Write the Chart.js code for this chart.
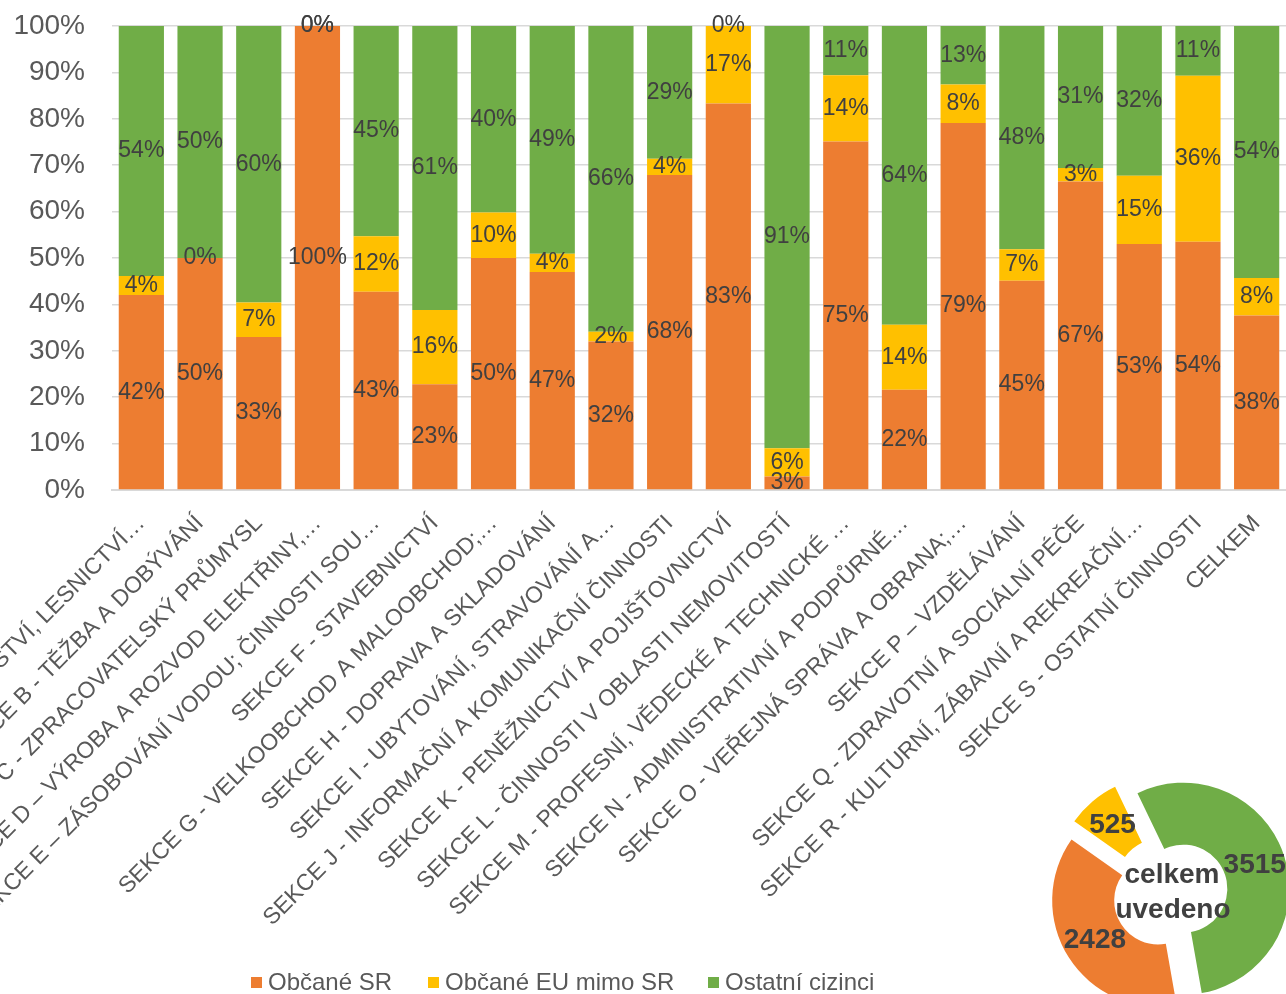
<!DOCTYPE html>
<html>
<head>
<meta charset="utf-8">
<script src="https://cdn.jsdelivr.net/npm/chart.js@4.4.1/dist/chart.umd.min.js"></script>
<style>
  html, body { margin: 0; padding: 0; background: #fff; overflow: hidden; }
  #wrap { position: relative; width: 1286px; height: 994px; overflow: hidden; }
  #barChart { position: absolute; left: 0; top: 0; }
  #pieChart { position: absolute; left: 1020px; top: 743px; }
  .lg-box { position: absolute; width: 11px; height: 11px; top: 977px; }
  .lg-text { position: absolute; top: 968px; font: 24px "Liberation Sans", Arial, sans-serif; line-height: 28px; color: #595959; white-space: nowrap; }
</style>
</head>
<body>
<div id="wrap">
  <canvas id="barChart" width="1286" height="994"></canvas>
  <canvas id="pieChart" width="300" height="300"></canvas>
  <div id="legend"></div>
</div>
<script>
// categories (x axis)
const categories = [
  "SEKCE A - ZEMĚDĚLSTVÍ, LESNICTVÍ…",
  "SEKCE B - TĚŽBA A DOBÝVÁNÍ",
  "SEKCE C - ZPRACOVATELSKÝ PRŮMYSL",
  "SEKCE D – VÝROBA A ROZVOD ELEKTŘINY,…",
  "SEKCE E – ZÁSOBOVÁNÍ VODOU; ČINNOSTI SOU…",
  "SEKCE F - STAVEBNICTVÍ",
  "SEKCE G - VELKOOBCHOD A MALOOBCHOD;…",
  "SEKCE H - DOPRAVA A SKLADOVÁNÍ",
  "SEKCE I - UBYTOVÁNÍ, STRAVOVÁNÍ A…",
  "SEKCE J - INFORMAČNÍ A KOMUNIKAČNÍ ČINNOSTI",
  "SEKCE K - PENĚŽNICTVÍ A POJIŠŤOVNICTVÍ",
  "SEKCE L - ČINNOSTI V OBLASTI NEMOVITOSTÍ",
  "SEKCE M - PROFESNÍ, VĚDECKÉ A TECHNICKÉ …",
  "SEKCE N - ADMINISTRATIVNÍ A PODPŮRNÉ…",
  "SEKCE O - VEŘEJNÁ SPRÁVA A OBRANA;…",
  "SEKCE P – VZDĚLÁVÁNÍ",
  "SEKCE Q - ZDRAVOTNÍ A SOCIÁLNÍ PÉČE",
  "SEKCE R - KULTURNÍ, ZÁBAVNÍ A REKREAČNÍ…",
  "SEKCE S - OSTATNÍ ČINNOSTI",
  "CELKEM"
];

// shares in % per category
const obcaneSR  = [42, 50, 33, 100, 42.7, 22.8, 50, 47, 32, 67.9, 83.3, 2.9, 75.1, 21.6, 79.1, 45.1, 66.5, 53, 53.5, 37.6];
const obcaneEU  = [4.1, 0, 7.4, 0, 12, 16, 9.8, 3.9, 2.1, 3.5, 16.7, 6.1, 14.3, 14, 8.3, 6.8, 2.9, 14.7, 35.8, 8.1];
const ostatni   = [53.9, 50, 59.6, 0, 45.3, 61.2, 40.2, 49.1, 65.9, 28.6, 0, 91, 10.6, 64.4, 12.6, 48.1, 30.6, 32.3, 10.7, 54.3];

const seriesNames = ["Občané SR", "Občané EU mimo SR", "Ostatní cizinci"];
const seriesColors = ["#ED7D31", "#FFC000", "#70AD47"];

// totals (doughnut)
const totalsCounts = [2428, 525, 3515];
const centerText = ["celkem", "uvedeno"];

const yTicks = [0, 10, 20, 30, 40, 50, 60, 70, 80, 90, 100];

Chart.defaults.font.family = '"Liberation Sans", Arial, sans-serif';

// percentage labels in the middle of each segment
const barLabels = {
  id: 'barLabels',
  afterDatasetsDraw(chart) {
    const ctx = chart.ctx;
    ctx.save();
    ctx.font = '23px "Liberation Sans", Arial, sans-serif';
    ctx.fillStyle = '#404040';
    ctx.textAlign = 'center';
    ctx.textBaseline = 'middle';
    chart.data.datasets.forEach((ds, i) => {
      chart.getDatasetMeta(i).data.forEach((bar, j) => {
        const y = (bar.y + bar.base) / 2;
        ctx.fillText(Math.round(ds.data[j]) + '%', bar.x, y);
      });
    });
    ctx.restore();
  }
};

new Chart(document.getElementById('barChart'), {
  type: 'bar',
  data: {
    labels: categories,
    datasets: [
      { label: seriesNames[0], data: obcaneSR, backgroundColor: seriesColors[0] },
      { label: seriesNames[1], data: obcaneEU, backgroundColor: seriesColors[1] },
      { label: seriesNames[2], data: ostatni, backgroundColor: seriesColors[2] }
    ]
  },
  options: {
    responsive: false,
    animation: false,
    barPercentage: 0.77,
    categoryPercentage: 1,
    layout: { padding: { top: 26, left: 0, right: 0, bottom: 0 } },
    plugins: { legend: { display: false }, tooltip: { enabled: false } },
    scales: {
      x: {
        stacked: true,
        grid: { display: false },
        border: { display: true, color: '#D9D9D9', width: 2 },
        ticks: {
          autoSkip: false, minRotation: 45, maxRotation: 45, padding: 12,
          color: '#595959', font: { size: 23 }
        },
        afterFit(scale) {
          scale.height = 504;
          scale.paddingLeft = 0;
          scale.paddingRight = 0;
        }
      },
      y: {
        stacked: true,
        min: 0,
        max: 100,
        afterBuildTicks(scale) { scale.ticks = yTicks.map(v => ({ value: v })); },
        ticks: {
          padding: 27, color: '#595959', font: { size: 28 },
          callback: v => v + '%'
        },
        grid: { color: '#D9D9D9', lineWidth: 1.5, drawTicks: false },
        border: { display: false },
        afterFit(scale) {
          scale.width = 112;
          scale.paddingTop = 0;
          scale.paddingBottom = 0;
        }
      }
    }
  },
  plugins: [barLabels]
});

// exploded doughnut: push every slice out along its middle angle
const explode = {
  id: 'explode',
  afterDatasetsUpdate(chart) {
    chart.getDatasetMeta(0).data.forEach(arc => {
      const a = (arc.startAngle + arc.endAngle) / 2;
      arc.x += Math.cos(a) * 14;
      arc.y += Math.sin(a) * 14;
    });
  }
};

const pieText = {
  id: 'pieText',
  afterDraw(chart) {
    const ctx = chart.ctx;
    const meta = chart.getDatasetMeta(0);
    ctx.save();
    ctx.font = 'bold 28px "Liberation Sans", Arial, sans-serif';
    ctx.fillStyle = '#404040';
    ctx.textAlign = 'center';
    ctx.textBaseline = 'middle';
    meta.data.forEach((arc, i) => {
      const p = arc.getCenterPoint();
      ctx.fillText(String(totalsCounts[i]), p.x, p.y);
    });
    const cx = (chart.chartArea.left + chart.chartArea.right) / 2;
    const cy = (chart.chartArea.top + chart.chartArea.bottom) / 2;
    ctx.fillText(centerText[0], cx + 2, cy - 18);
    ctx.fillText(centerText[1], cx + 3, cy + 17);
    ctx.restore();
  }
};

new Chart(document.getElementById('pieChart'), {
  type: 'doughnut',
  data: {
    labels: seriesNames,
    datasets: [{ data: totalsCounts, backgroundColor: seriesColors, borderWidth: 0 }]
  },
  options: {
    responsive: false,
    animation: false,
    rotation: 170,
    radius: 106,
    cutout: '41.5%',
    layout: { padding: 0 },
    plugins: { legend: { display: false }, tooltip: { enabled: false } }
  },
  plugins: [explode, pieText]
});

// legend
const legendLeft = [251, 428, 708];
const legend = document.getElementById('legend');
seriesNames.forEach((name, i) => {
  const box = document.createElement('div');
  box.className = 'lg-box';
  box.style.left = legendLeft[i] + 'px';
  box.style.background = seriesColors[i];
  const txt = document.createElement('div');
  txt.className = 'lg-text';
  txt.style.left = (legendLeft[i] + 17) + 'px';
  txt.textContent = name;
  legend.appendChild(box);
  legend.appendChild(txt);
});
</script>
</body>
</html>
